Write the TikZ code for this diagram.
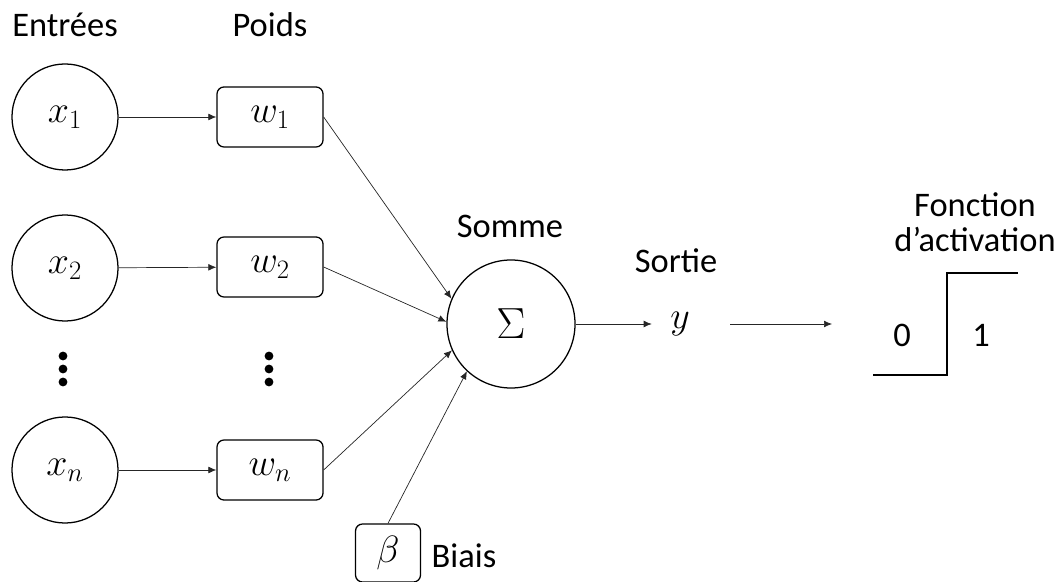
\RequirePackage{fix-cm}
\documentclass[tikz,border=0pt]{standalone}
\usepackage{fontspec}
\setmainfont{Carlito}
\usetikzlibrary{arrows.meta}

\begin{document}
\begin{tikzpicture}[
    x=0.025cm, y=-0.025cm,
    >={Latex[length=2mm,width=1.7mm]},
    entree/.style={
        draw, circle,
        line width=0.9pt,
        minimum size=2.65cm,
        inner sep=0pt,
        font=\fontsize{27}{31}\selectfont
    },
    poids/.style={
        draw, rounded corners=5pt,
        line width=0.9pt,
        minimum width=2.65cm,
        minimum height=1.5cm,
        inner sep=0pt,
        font=\fontsize{27}{31}\selectfont
    },
    txt/.style={anchor=base, inner sep=0pt, font=\fontsize{24.5}{29}\selectfont},
    arr/.style={->, line width=0.5pt, draw=black!85}
]
    \useasboundingbox (0,0) rectangle (1062,582);

    % titres
    \node[txt] (lentrees) at (65,37) {Entrées};
    \node[txt] (lpoids) at (270,37) {Poids};

    % entrees et poids
    \node[entree] (x1) at (65,117) {$x_1$};
    \node[entree] (x2) at (65,268) {$x_2$};
    \node[entree] (xn) at (65,470) {$x_n$};

    \node[poids] (w1) at (270,117) {$w_1$};
    \node[poids] (w2) at (270,267) {$w_2$};
    \node[poids] (wn) at (270,470) {$w_n$};

    \foreach \px in {63,269}
        \foreach \py in {356,369,382}
            \fill (\px,\py) circle (0.11cm);

    \draw[arr] (x1) -- (w1);
    \draw[arr] (x2) -- (w2);
    \draw[arr] (xn) -- (wn);

    % somme
    \node[txt] (lsomme) at (510,238) {Somme};
    \node[entree, minimum size=3.2cm, font=\fontsize{31}{35}\selectfont]
        (sigma) at (511,324) {$\Sigma$};

    \draw[arr] (w1.east) -- (sigma.157);
    \draw[arr] (w2.east) -- (sigma.178);
    \draw[arr] (wn.east) -- (sigma.204);

    % biais
    \node[poids, minimum width=1.625cm, minimum height=1.45cm]
        (beta) at (388,553) {$\beta$};
    \node[txt] (lbiais) at (464,567) {Biais};
    \draw[arr] (beta.north) -- (sigma.227);

    % sortie
    \node[txt] (lsortie) at (676,273) {Sortie};
    \node[minimum width=1.4cm, inner sep=0pt, font=\fontsize{27}{31}\selectfont]
        (yout) at (680,324) {$y$};
    \draw[arr] (sigma) -- (yout);

    % fonction d'activation
    \coordinate (act) at (832,324);
    \draw[arr, shorten <=0.55cm] (yout.east) -- (act);

    \node[txt] (lfonction) at (975,217) {Fonction};
    \node[txt] (lactivation) at (975,252) {d’activation};
    \draw[line width=1.4pt] (873,375) -- (947,375) -- (947,273) -- (1018,273);
    \node[txt] (zero) at (902,347) {0};
    \node[txt] (un) at (981,347) {1};
\end{tikzpicture}
\end{document}
